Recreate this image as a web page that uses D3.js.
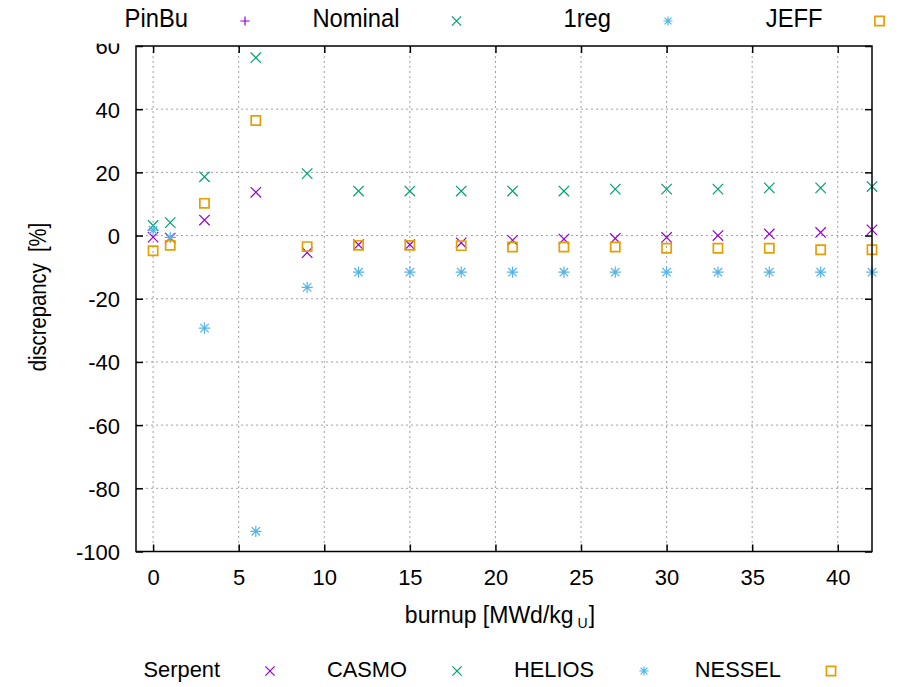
<!DOCTYPE html>
<html>
<head>
<meta charset="utf-8">
<script src="https://cdn.jsdelivr.net/npm/d3@7"></script>
<style>
  html, body { margin: 0; padding: 0; background: #fff; }
  svg { display: block; font-family: "Liberation Sans", Arial, sans-serif; }
</style>
</head>
<body>
<svg id="chart" width="904" height="687"></svg>
<script>
// Burnup steps [MWd/kgU] and discrepancy of each code [%]
const burnup = [0, 1, 3, 6, 9, 12, 15, 18, 21, 24, 27, 30, 33, 36, 39, 42];
const serpent = [-0.5, -0.8, 4.9, 13.7, -5.4, -2.9, -2.9, -2.3, -1.5, -1.1, -0.9, -0.6, 0.0, 0.5, 1.0, 1.8];
const casmo = [3.2, 4.1, 18.6, 56.3, 19.6, 14.1, 14.1, 14.1, 14.1, 14.1, 14.7, 14.7, 14.7, 15.1, 15.1, 15.5];
const helios = [1.7, -0.6, -29.3, -93.6, -16.4, -11.6, -11.6, -11.6, -11.6, -11.6, -11.6, -11.6, -11.6, -11.6, -11.6, -11.6];
const nessel = [-4.8, -3.1, 10.2, 36.4, -3.5, -3.1, -3.1, -3.2, -3.6, -3.6, -3.6, -4.0, -4.0, -4.0, -4.5, -4.5];

const xTicks = [0, 5, 10, 15, 20, 25, 30, 35, 40];
const yTicks = [-100, -80, -60, -40, -20, 0, 20, 40, 60];

const topKeyLabels = ["PinBu", "Nominal", "1reg", "JEFF"];
const topKeySymbols = ["plus", "cross", "star", "box"];
const bottomKeyLabels = ["Serpent", "CASMO", "HELIOS", "NESSEL"];
const bottomKeySymbols = ["cross", "cross", "star", "box"];

const colors = ["#9400d3", "#009e73", "#56b4e9", "#e69f00"];
const series = [
  { values: serpent, symbol: "cross", color: colors[0] },
  { values: casmo, symbol: "cross", color: colors[1] },
  { values: helios, symbol: "star", color: colors[2] },
  { values: nessel, symbol: "box", color: colors[3] }
];

const svg = d3.select("#chart");
const pLeft = 136, pRight = 872, pTop = 46, pBottom = 551.5;

const x = d3.scaleLinear().domain([-1, 42]).range([pLeft, pRight]);
const y = d3.scaleLinear().domain([-100, 60]).range([pBottom, pTop]);

// squeeze glyphs horizontally to get the narrow look of the terminal font
function squeeze(sel, f) {
  sel.each(function () {
    const L = this.getComputedTextLength();
    this.setAttribute("textLength", (L * f).toFixed(2));
    this.setAttribute("lengthAdjust", "spacingAndGlyphs");
  });
}

// dotted grid
const grid = svg.append("g").attr("stroke", "#a0a0a0").attr("stroke-width", 1)
  .attr("stroke-dasharray", "2,3").attr("fill", "none");
grid.selectAll("line.gx").data(xTicks).join("line")
  .attr("x1", d => x(d)).attr("x2", d => x(d)).attr("y1", pTop).attr("y2", pBottom);
grid.selectAll("line.gy").data(yTicks.filter(d => d > -100 && d < 60)).join("line")
  .attr("x1", pLeft).attr("x2", pRight).attr("y1", d => y(d)).attr("y2", d => y(d));

// point symbols
function symbolPath(type, s) {
  if (type === "plus") return `M${-s},0H${s}M0,${-s}V${s}`;
  if (type === "cross") return `M${-s},${-s}L${s},${s}M${-s},${s}L${s},${-s}`;
  if (type === "star") return `M${-s},0H${s}M0,${-s}V${s}M${-s * 0.75},${-s * 0.75}L${s * 0.75},${s * 0.75}M${-s * 0.75},${s * 0.75}L${s * 0.75},${-s * 0.75}`;
  return `M${-s},${-s}H${s}V${s}H${-s}Z`;
}
function symbolSize(type) { return type === "box" ? 4.6 : type === "star" ? 5.6 : 5.2; }

const pts = svg.append("g");
series.forEach(sr => {
  pts.append("g").selectAll("path").data(sr.values).join("path")
    .attr("transform", (d, i) => `translate(${x(burnup[i])},${y(d)})`)
    .attr("d", symbolPath(sr.symbol, symbolSize(sr.symbol)))
    .attr("fill", "none").attr("stroke", sr.color)
    .attr("stroke-width", sr.symbol === "box" ? 1.7 : 1.2);
});

// axes with inward ticks on all four sides; plain hyphen for negatives
const axFont = 22;
const fmt = d => String(d);
const gLeft = svg.append("g").attr("transform", `translate(${pLeft},0)`)
  .call(d3.axisLeft(y).tickValues(yTicks).tickFormat(fmt).tickSize(-7).tickPadding(16));
const gBottom = svg.append("g").attr("transform", `translate(0,${pBottom})`)
  .call(d3.axisBottom(x).tickValues(xTicks).tickFormat(fmt).tickSize(-7).tickPadding(18));
const gRight = svg.append("g").attr("transform", `translate(${pRight},0)`)
  .call(d3.axisRight(y).tickValues(yTicks).tickSize(-7).tickFormat(""));
const gTop = svg.append("g").attr("transform", `translate(0,${pTop})`)
  .call(d3.axisTop(x).tickValues(xTicks).tickSize(-7).tickFormat(""));
[gLeft, gBottom, gRight, gTop].forEach(g => {
  g.select(".domain").remove();
  g.selectAll(".tick line").attr("stroke", "#000").attr("stroke-width", 1.5);
  g.selectAll("text").attr("fill", "#000").attr("font-size", axFont)
    .attr("font-family", "Liberation Sans, Arial, sans-serif");
});
gLeft.selectAll("text").attr("dy", "0.36em");

// plot border
svg.append("rect").attr("x", pLeft).attr("y", pTop)
  .attr("width", pRight - pLeft).attr("height", pBottom - pTop)
  .attr("fill", "none").attr("stroke", "#000").attr("stroke-width", 1.5);

// axis titles
const yTitle = svg.append("text")
  .attr("transform", `translate(46,297) rotate(-90)`)
  .attr("text-anchor", "middle").attr("font-size", 23).attr("fill", "#000")
  .style("white-space", "pre").text("discrepancy  [%]");
squeeze(yTitle, 0.88);

// x title: main part, subscript U, closing bracket
const xt = svg.append("g").attr("fill", "#000");
const xMain = xt.append("text").attr("y", 623).attr("font-size", 23).text("burnup [MWd/kg");
const xSub = xt.append("text").attr("y", 628).attr("font-size", 14).text("U");
const xEnd = xt.append("text").attr("y", 623).attr("font-size", 23).text("]");
const w1 = xMain.node().getComputedTextLength();
const w2 = xSub.node().getComputedTextLength();
const w3 = xEnd.node().getComputedTextLength();
const x0 = 500 - (w1 + 4 + w2 + 1 + w3) / 2;
xMain.attr("x", x0);
xSub.attr("x", x0 + w1 + 4);
xEnd.attr("x", x0 + w1 + 4 + w2 + 1);

// upper key sits on an opaque background
svg.append("rect").attr("x", 0).attr("y", 0).attr("width", 904).attr("height", 43.5).attr("fill", "#fff");

function drawKey(labels, symbols, textEnd0, step, gap, baseline, markY, size, fontSize, f) {
  const g = svg.append("g");
  labels.forEach((lab, i) => {
    const t = g.append("text").attr("x", textEnd0 + i * step).attr("y", baseline)
      .attr("text-anchor", "end").attr("font-size", fontSize).attr("fill", "#000").text(lab);
    squeeze(t, f);
    g.append("path")
      .attr("transform", `translate(${textEnd0 + i * step + gap},${markY})`)
      .attr("d", symbolPath(symbols[i], size))
      .attr("fill", "none").attr("stroke", colors[i])
      .attr("stroke-width", symbols[i] === "box" ? 1.7 : 1.2);
  });
}
drawKey(topKeyLabels, topKeySymbols, 188, 211.5, 57, 27, 21, 4.6, 25, 0.95);
drawKey(bottomKeyLabels, bottomKeySymbols, 220, 187, 50, 677, 671, 4.6, 22.5, 0.97);
</script>
</body>
</html>
